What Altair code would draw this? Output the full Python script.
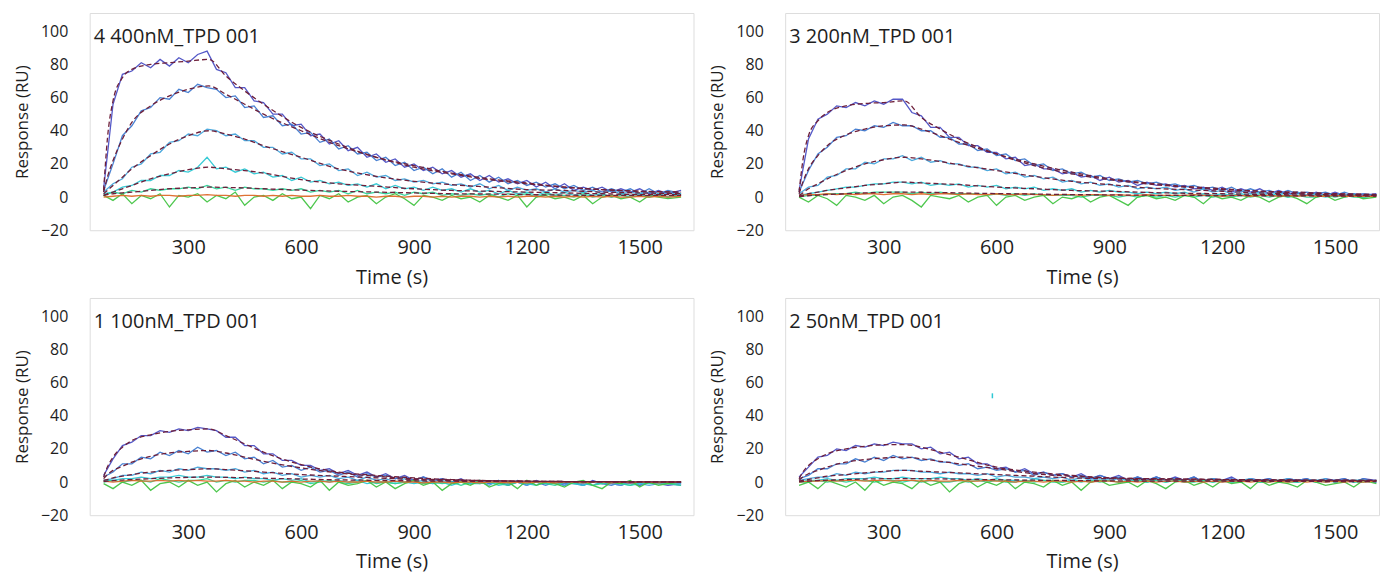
import altair as alt
import pandas as pd

TIME = [75, 100, 125, 150, 175, 200, 225, 250, 275, 300,
        325, 350, 375, 400, 425, 450, 475, 500, 525, 550,
        575, 600, 625, 650, 675, 700, 725, 750, 775, 800,
        825, 850, 875, 900, 925, 950, 975, 1000, 1025, 1050,
        1075, 1100, 1125, 1150, 1175, 1200, 1225, 1250, 1275, 1300,
        1325, 1350, 1375, 1400, 1425, 1450, 1475, 1500, 1525, 1550,
        1575, 1610]
FIT_TIME = [75, 85, 100, 125, 150, 200, 250, 300, 355, 400, 450, 500, 600,
            700, 800, 900, 1000, 1100, 1200, 1300, 1400, 1500, 1610]

PANEL_TITLES = ["4 400nM_TPD 001", "3 200nM_TPD 001", "1 100nM_TPD 001", "2 50nM_TPD 001"]
SERIES = ["s1", "s2", "s3", "s4", "s5", "s6", "s7"]
COLORS = ["#4b4fc4", "#3f7ad0", "#45a5dc", "#2ec8d4", "#2fd39a", "#43c443", "#dd6a2a"]
WIDTHS = [1.3, 1.3, 1.3, 1.3, 1.3, 1.2, 2.0]
FIT_COLOR = "#6e1f3a"
X_TICKS = [300, 600, 900, 1200, 1500]
Y_TICKS = [-20, 0, 20, 40, 60, 80, 100]

# ---- panel A: 4 400nM ----
A1 = [5, 56, 74, 76, 81, 78, 83, 79, 84, 81,
      86, 88, 77, 75, 66, 66, 58, 57, 50, 50,
      43, 44, 37, 38, 32, 34, 28, 30, 24, 26,
      21, 23, 18, 20, 16, 18, 14, 16, 12, 14,
      10, 13, 9, 11, 8, 10, 6, 9, 5, 8,
      4, 6, 4, 6, 3, 5, 3, 5, 2, 4,
      2, 4]
A2 = [4, 20, 37, 43, 52, 54, 60, 59, 65, 63,
      68, 66, 65, 60, 61, 54, 55, 48, 49, 43,
      44, 38, 39, 33, 35, 29, 31, 26, 27, 22,
      24, 19, 21, 16, 18, 14, 17, 12, 15, 10,
      13, 9, 12, 8, 10, 7, 9, 6, 8, 5,
      7, 4, 6, 3, 5, 3, 5, 2, 5, 2,
      4, 2]
A3 = [3, 8, 11, 18, 20, 26, 27, 33, 34, 38,
      37, 41, 40, 37, 38, 34, 34, 30, 30, 26,
      27, 23, 23, 19, 20, 16, 17, 13, 15, 12,
      13, 10, 11, 9, 10, 8, 9, 7, 8, 6,
      8, 5, 7, 4, 6, 4, 5, 3, 5, 3,
      4, 3, 4, 2, 4, 2, 3, 2, 3, 1,
      3, 1]
A4 = [2, 3, 6, 7, 10, 10, 13, 13, 16, 15,
      18, 24, 17, 18, 15, 17, 14, 15, 12, 13,
      10, 12, 9, 10, 8, 9, 7, 8, 6, 8,
      5, 7, 5, 6, 4, 6, 4, 5, 3, 5,
      3, 4, 2, 4, 2, 3, 1, 3, 1, 3,
      1, 3, 1, 2, 0, 2, 1, 2, 0, 2,
      0, 2]
A5 = [1, 3, 2, 4, 3, 5, 4, 5, 5, 6,
      5, 7, 5, 6, 4, 6, 5, 5, 4, 5,
      4, 5, 3, 4, 3, 4, 2, 4, 2, 3,
      2, 3, 1, 3, 2, 3, 1, 2, 1, 2,
      1, 2, 0, 2, 1, 2, 0, 2, 1, 1,
      0, 2, 0, 1, 0, 1, 0, 1, 0, 1,
      0, 1]
A6 = [1, -2, 2, -4, 1, -1, 2, -6, 1, 0,
      2, -3, 1, -1, 3, -5, 0, 1, -2, 2,
      -1, 0, -7, 1, -1, 2, -3, 0, 1, -4,
      0, 2, -1, -5, 1, 0, -2, 1, -1, 0,
      -3, 1, 0, -2, 1, -6, 0, 1, -1, 0,
      -2, 1, -4, 0, 1, -1, 0, -3, 1, 0,
      -1, 0]
A7 = [0, 0.5, 1, 0.5, 1, 0.5, 1, 1, 0.5, 1,
      1, 1.5, 1, 1, 0.5, 1, 1, 0.5, 1, 0.5,
      1, 0.5, 0.5, 1, 0.5, 0.5, 1, 0.5, 0.5, 0,
      0.5, 0.5, 0, 0.5, 0.5, 0, 0.5, 0, 0.5, 0.5,
      0, 0.5, 0, 0.5, 0, 0.5, 0.5, 0, 0.5, 0,
      0.5, 0, 0.5, 0, 0.5, 0, 0, 0.5, 0, 0.5,
      0, 0.5]
FA1 = [4, 35, 58, 72, 77, 80, 81, 82, 83, 73, 64, 56, 42, 32, 24, 19, 14.5, 11, 8.5, 6, 4.5, 3.5, 3]
FA2 = [3, 12, 22, 35, 45, 55, 61, 65, 67, 62, 56, 50, 40, 31, 24, 18, 14, 10.5, 8, 6, 4.5, 3.5, 3]
FA3 = [2, 4, 7, 12, 17, 25, 32, 37, 40, 38, 35, 31, 24, 17, 12.5, 9.5, 7.5, 6, 4.5, 4, 3, 2.5, 2]
FA4 = [1, 2, 3, 5, 7, 11, 14, 16.5, 18, 17, 16, 14.5, 10.5, 8, 6.5, 5, 4, 3.5, 3, 2.5, 2, 1.5, 1.5]
FA5 = [1, 1.5, 2, 2.5, 3, 4, 5, 5.5, 6, 5.8, 5.5, 5, 4.2, 3.5, 3, 2.5, 2, 1.8, 1.5, 1.2, 1, 1, 1]

# ---- panel B: 3 200nM ----
B1 = [4, 35, 47, 50, 55, 54, 57, 55, 58, 56,
      59, 59, 51, 49, 42, 42, 36, 36, 31, 31,
      27, 27, 23, 24, 19, 20, 17, 17, 14, 15,
      12, 13, 10, 12, 9, 10, 7, 9, 7, 8,
      6, 7, 5, 6, 4, 6, 3, 5, 3, 5,
      2, 4, 2, 3, 1, 3, 1, 3, 1, 2,
      1, 2]
B2 = [3, 16, 26, 30, 36, 37, 41, 40, 43, 42,
      45, 43, 43, 40, 40, 36, 36, 32, 32, 28,
      29, 25, 26, 22, 23, 19, 20, 16, 17, 14,
      15, 12, 13, 10, 11, 9, 10, 8, 9, 7,
      8, 6, 7, 5, 6, 4, 6, 3, 5, 3,
      4, 2, 4, 2, 3, 2, 3, 1, 3, 1,
      2, 1]
B3 = [2, 6, 7, 12, 13, 17, 17, 21, 20, 23,
      23, 25, 22, 24, 21, 22, 20, 20, 18, 18,
      16, 17, 14, 15, 12, 13, 11, 12, 9, 10,
      8, 9, 7, 8, 6, 7, 5, 6, 5, 6,
      4, 5, 3, 5, 3, 4, 2, 4, 2, 3,
      2, 3, 1, 3, 1, 2, 1, 2, 1, 2,
      0, 1]
B4 = [1, 2, 3, 4, 5, 6, 6, 7, 8, 8,
      9, 9, 8, 9, 7, 8, 7, 8, 6, 7,
      6, 7, 5, 6, 5, 6, 4, 5, 4, 5,
      3, 4, 3, 4, 3, 3, 2, 3, 2, 3,
      2, 3, 1, 2, 1, 2, 1, 2, 1, 2,
      1, 2, 0, 1, 1, 1, 0, 1, 0, 1,
      0, 1]
B5 = [0, 1, 1, 2, 2, 2, 3, 2, 3, 3,
      3, 3, 2, 3, 2, 3, 2, 2, 2, 2,
      1, 2, 1, 2, 1, 2, 1, 1, 1, 1,
      0, 1, 1, 1, 0, 1, 0, 1, 0, 1,
      0, 1, 0, 1, 0, 1, 0, 1, 0, 1,
      0, 1, 0, 1, 0, 0, 1, 0, 1, 0,
      0, 1]
B6 = [0, -3, 1, -1, -5, 1, 0, -2, 1, -4,
      0, 1, -2, -6, 1, 0, -1, 1, -3, 0,
      1, -5, 0, 1, -2, 0, 1, -4, 0, -1,
      1, -3, 0, 1, -2, -5, 0, 1, -1, 0,
      -2, 1, 0, -4, 1, -1, 0, -2, 1, 0,
      -3, 0, 1, -1, -4, 0, 1, -2, 0, 1,
      -1, 0]
B7 = [1, 1.5, 1.5, 2, 1.5, 2, 1.5, 2, 2, 1.5,
      2, 2, 1.5, 2, 1.5, 2, 2, 1.5, 2, 1.5,
      1.5, 2, 1.5, 1.5, 2, 1.5, 1.5, 1, 1.5, 1.5,
      1, 1.5, 1.5, 1, 1.5, 1, 1, 1.5, 1, 1,
      1, 1, 1.5, 1, 1, 0.5, 1, 1, 0.5, 1,
      1, 0.5, 1, 0.5, 1, 0.5, 0.5, 1, 0.5, 0.5,
      0.5, 0.5]
FB1 = [3, 22, 37, 46, 51, 55, 56.5, 57, 58, 48, 41, 35, 26, 19, 14, 10.5, 8, 6, 4.5, 3.5, 2.5, 2, 1.5]
FB2 = [2, 9, 17, 25, 31, 37.5, 41, 43, 43.5, 41, 37, 33, 26, 20, 15, 11, 8.5, 6.5, 5, 3.5, 3, 2, 1.5]
FB3 = [1, 2.5, 5, 8, 11, 16, 20, 22.5, 24, 23, 21.5, 19.5, 16, 12.5, 9.5, 7.5, 5.5, 4.5, 3.5, 2.5, 2, 1.5, 1]
FB4 = [0.5, 1, 2, 3, 4, 5.5, 7, 8, 9, 8.5, 8, 7.5, 6, 5, 4, 3.5, 2.8, 2.3, 2, 1.6, 1.3, 1.1, 1]
FB5 = [0.3, 0.5, 0.8, 1.2, 1.5, 2, 2.5, 2.8, 3, 2.9, 2.7, 2.5, 2.1, 1.8, 1.5, 1.3, 1.1, 1, 0.9, 0.8, 0.7, 0.6, 0.5]

# ---- panel C: 1 100nM ----
C1 = [4, 14, 22, 24, 28, 28, 31, 30, 32, 31,
      33, 32, 31, 27, 27, 22, 22, 17, 17, 13,
      13, 10, 10, 7, 8, 5, 7, 4, 6, 3,
      5, 2, 4, 1, 3, 1, 2, 0, 2, -1,
      1, -1, 1, -2, 0, -2, 1, -1, 0, -2,
      0, -2, 1, -1, -1, -2, 0, -2, 0, -1,
      -2, -1]
C2 = [3, 6, 11, 11, 15, 14, 18, 16, 19, 17,
      21, 18, 19, 16, 18, 14, 15, 11, 13, 9,
      10, 7, 9, 6, 7, 4, 6, 3, 5, 3,
      4, 2, 3, 1, 3, 0, 2, 0, 1, -1,
      1, -1, 0, -2, 1, -1, 0, -2, 0, -1,
      -1, -2, 0, -1, -2, 0, -1, -2, 0, -1,
      -1, -2]
C3 = [1, 2, 4, 4, 6, 5, 7, 6, 8, 7,
      9, 8, 8, 7, 8, 6, 7, 5, 6, 4,
      5, 3, 4, 3, 4, 2, 3, 1, 3, 1,
      2, 0, 2, 0, 1, -1, 1, -1, 0, -1,
      0, -2, 1, -1, 0, -2, 0, -1, -1, -2,
      0, -1, -2, 0, -1, -2, 0, -1, -2, -1,
      0, -1]
C4 = [1, 1, 2, 2, 3, 2, 3, 3, 4, 3,
      3, 4, 3, 3, 2, 3, 2, 2, 1, 2,
      1, 2, 0, 1, 0, 1, 0, 1, -1, 0,
      0, -1, 0, -1, 0, -1, 0, -2, 0, -1,
      -1, 0, -2, -1, 0, -1, -2, 0, -1, 0,
      -1, -2, 0, -1, 0, -1, -2, -1, 0, -1,
      -1, 0]
C5 = [0, 1, 0, 1, 1, 0, 2, 1, 0, 1,
      1, 2, 0, 1, 0, 1, 1, 0, 1, 0,
      0, 1, -1, 0, 1, 0, -1, 0, 1, -1,
      0, -1, 0, 1, -1, 0, -1, 0, -2, 0,
      -1, 0, -1, -2, 0, -1, 0, -1, -2, 0,
      -1, 0, -2, -1, 0, -1, -2, 0, -1, 0,
      -1, -2]
C6 = [-1, -4, 0, -2, 1, -5, -1, 0, -3, 1,
      -2, 0, -6, -1, 1, -3, 0, -2, 1, -4,
      0, -1, -3, 1, -5, 0, -2, -1, 1, -3,
      0, -4, -1, 1, -2, 0, -5, -1, 0, -2,
      1, -3, -1, 0, -4, 1, -2, 0, -1, -3,
      0, 1, -2, -4, 0, -1, 1, -3, 0, -2,
      -1, 0]
C7 = [0.5, 0, 0.5, 1, 0.5, 0.5, 1, 0.5, 1, 0.5,
      1, 0.5, 0.5, 1, 0.5, 0.5, 0, 0.5, 0.5, 0,
      0.5, 0, 0.5, 0.5, 0, 0.5, 0, 0, 0.5, 0,
      0, 0.5, 0, 0, -0.5, 0, 0, -0.5, 0, 0,
      -0.5, 0, 0, -0.5, 0, -0.5, 0, 0, -0.5, 0,
      0, -0.5, 0, 0, -0.5, 0, -0.5, 0, 0, -0.5,
      0, 0]
FC1 = [3, 9, 15, 21, 25, 28.5, 30.5, 31.5, 32, 28, 23, 18, 10.5, 6, 4, 2.5, 1.5, 0.8, 0.5, 0.3, 0.2, 0.1, 0]
FC2 = [2, 4.5, 7, 9.5, 12, 15.5, 17.5, 18.5, 19, 17.5, 15, 12.5, 8.5, 5.5, 3.5, 2, 1.3, 0.8, 0.5, 0.3, 0.2, 0.1, 0]
FC3 = [1, 1.5, 2.5, 3.5, 4.5, 6, 7, 7.5, 8, 7.5, 6.8, 6, 4.5, 3.5, 2.5, 1.5, 1, 0.7, 0.5, 0.3, 0.2, 0.1, 0]
FC4 = [0.3, 0.5, 0.8, 1.2, 1.5, 2, 2.5, 2.8, 3, 2.8, 2.6, 2.3, 1.8, 1.3, 1, 0.7, 0.5, 0.4, 0.3, 0.2, 0.1, 0.1, 0]

# ---- panel D: 2 50nM ----
D1 = [3, 9, 15, 16, 20, 19, 22, 21, 23, 22,
      24, 23, 23, 20, 21, 17, 18, 14, 15, 11,
      11, 8, 9, 6, 8, 5, 6, 4, 5, 3,
      5, 2, 4, 2, 4, 1, 3, 1, 3, 1,
      3, 1, 3, 0, 2, 1, 3, 0, 2, 1,
      2, 0, 2, 1, 2, 0, 2, 1, 2, 0,
      2, 1]
D2 = [2, 4, 8, 8, 11, 11, 14, 12, 15, 13,
      16, 14, 15, 13, 14, 12, 12, 10, 11, 8,
      9, 7, 8, 6, 7, 4, 6, 4, 5, 3,
      4, 2, 4, 2, 3, 1, 3, 1, 3, 1,
      2, 1, 3, 0, 2, 1, 2, 0, 2, 1,
      2, 0, 2, 1, 2, 0, 1, 1, 2, 0,
      2, 0]
D3 = [1, 2, 3, 3, 5, 4, 6, 5, 6, 6,
      7, 7, 7, 6, 6, 5, 6, 5, 5, 4,
      5, 3, 4, 3, 3, 2, 3, 2, 3, 1,
      3, 1, 2, 1, 2, 1, 2, 0, 2, 1,
      2, 0, 1, 1, 2, 0, 1, 1, 2, 0,
      1, 1, 2, 0, 1, 1, 2, 0, 1, 1,
      1, 0]
D4 = [0, 1, 1, 2, 1, 2, 2, 2, 3, 2,
      2, 3, 2, 2, 2, 3, 2, 2, 1, 2,
      1, 2, 1, 1, 0, 2, 1, 1, 0, 1,
      1, 0, 1, 1, 0, 1, 1, 0, 1, 0,
      1, 0, 1, 1, 0, 1, 0, 1, 1, 0,
      1, 0, 1, 0, 1, 1, 0, 1, 0, 1,
      1, 0]
D5 = [0, 0, 1, 0, 1, 0, 1, 1, 0, 1,
      1, 0, 1, 0, 1, 0, 0, 1, 0, 1,
      0, 1, 0, 0, 1, 0, 1, 0, 0, 1,
      0, 1, 0, 1, 0, 0, 1, 0, 1, 0,
      1, 0, 0, 1, 0, 1, 0, 0, 1, 0,
      0, 1, 0, 0, 1, 0, 1, 0, 1, 0,
      0, 1]
D6 = [-2, 0, -4, 1, -1, -3, 0, -5, 1, -2,
      0, -1, -4, 1, -2, 0, -6, -1, 1, -3,
      0, -2, 1, -4, 0, -1, -3, 1, -2, 0,
      -5, 0, 1, -2, -1, 0, -3, 1, -1, -4,
      0, 1, -2, 0, -3, 1, -1, 0, -4, 1,
      -2, 0, -1, -3, 1, 0, -2, -1, 0, -3,
      1, -1]
D7 = [0, 0.5, 0.5, 1, 0.5, 1, 1, 0.5, 1, 1,
      0.5, 1, 1, 0.5, 1, 0.5, 0.5, 1, 0.5, 0.5,
      1, 0.5, 0.5, 0, 0.5, 0.5, 0, 0.5, 0.5, 0,
      0.5, 0, 0.5, 0.5, 0, 0.5, 0, 0.5, 0, 0.5,
      0.5, 0, 0.5, 0, 0.5, 0, 0.5, 0.5, 0, 0.5,
      0, 0.5, 0, 0.5, 0, 0.5, 0, 0.5, 0, 0.5,
      0, 0.5]
FD1 = [2, 6, 10, 14, 17, 20, 21.5, 22.5, 22.5, 21, 18, 15, 9, 6, 4, 2.5, 2, 1.8, 1.5, 1.3, 1.2, 1.1, 1]
FD2 = [1, 3, 5, 7, 9, 12, 13.5, 14.5, 15, 14, 12.5, 11, 8, 5, 3.5, 2.5, 2, 1.8, 1.5, 1.3, 1.2, 1.1, 1]
FD3 = [0.5, 1, 1.5, 2.5, 3.5, 4.5, 5.5, 6.5, 7, 6.5, 6, 5.5, 4.5, 3.5, 2.5, 2, 1.5, 1.3, 1.1, 1, 0.9, 0.8, 0.7]
FD4 = [0.2, 0.4, 0.6, 0.9, 1.1, 1.5, 1.8, 2, 2.1, 2, 1.9, 1.7, 1.4, 1.1, 0.9, 0.7, 0.6, 0.5, 0.5, 0.4, 0.4, 0.3, 0.3]

# stray cyan spike seen in the 50nM panel
STRAY_T = [589]
STRAY_LO = [50.5]
STRAY_HI = [53.5]

DATA = {
    "A": [A1, A2, A3, A4, A5, A6, A7],
    "B": [B1, B2, B3, B4, B5, B6, B7],
    "C": [C1, C2, C3, C4, C5, C6, C7],
    "D": [D1, D2, D3, D4, D5, D6, D7],
}
FITS = {
    "A": [FA1, FA2, FA3, FA4, FA5],
    "B": [FB1, FB2, FB3, FB4, FB5],
    "C": [FC1, FC2, FC3, FC4],
    "D": [FD1, FD2, FD3, FD4],
}

FONT = "Open Sans"
TEXT_COLOR = "#1e1e1e"


def panel(key, title, width, xmax, stray=False):
    rows = []
    for name, vals in zip(SERIES, DATA[key]):
        assert len(vals) == len(TIME), (key, name, len(vals))
        rows += [{"t": t, "v": v, "s": name} for t, v in zip(TIME, vals)]
    df = pd.DataFrame(rows)
    frows = []
    for i, vals in enumerate(FITS[key]):
        assert len(vals) == len(FIT_TIME), (key, i, len(vals))
        frows += [{"t": t, "v": v, "f": f"f{i}"} for t, v in zip(FIT_TIME, vals)]
    fdf = pd.DataFrame(frows)

    x = alt.X("t:Q",
              scale=alt.Scale(domain=[38, xmax], nice=False, zero=False),
              axis=alt.Axis(values=X_TICKS, format="d", title="Time (s)", grid=False,
                            ticks=False, domain=False, labelFontSize=20, labelPadding=7,
                            titleFontSize=20, titleFontWeight="normal", titlePadding=10,
                            labelFont=FONT, titleFont=FONT, labelColor=TEXT_COLOR,
                            titleColor=TEXT_COLOR, labelFlush=False))
    y = alt.Y("v:Q",
              scale=alt.Scale(domain=[-20, 111], nice=False, zero=False),
              axis=alt.Axis(values=Y_TICKS, format="d", title="Response (RU)", grid=False,
                            ticks=False, domain=False, labelFontSize=16, labelPadding=22,
                            titleFontSize=17, titleFontWeight="normal", titlePadding=9,
                            labelFont=FONT, titleFont=FONT, labelColor=TEXT_COLOR,
                            titleColor=TEXT_COLOR, labelFlush=False))

    lines = alt.Chart(df).mark_line(clip=True, opacity=0.95).encode(
        x=x, y=y,
        color=alt.Color("s:N", scale=alt.Scale(domain=SERIES, range=COLORS), legend=None),
        strokeWidth=alt.StrokeWidth("s:N", scale=alt.Scale(domain=SERIES, range=WIDTHS),
                                    legend=None),
    )
    fits = alt.Chart(fdf).mark_line(clip=True, strokeWidth=1.3, strokeDash=[5, 3],
                                    color=FIT_COLOR, interpolate="monotone").encode(
        x=x, y=y, detail="f:N")
    label = alt.Chart(pd.DataFrame({"label": [title]})).mark_text(
        align="left", baseline="middle", fontSize=20, font=FONT, color=TEXT_COLOR
    ).encode(x=alt.value(4), y=alt.value(24), text="label:N")

    layers = [lines, fits, label]
    if stray:
        sdf = pd.DataFrame({"t": STRAY_T, "v": STRAY_LO, "hi": STRAY_HI})
        layers.append(alt.Chart(sdf).mark_rule(color="#2ec8d4", strokeWidth=1.5).encode(
            x=x, y=y, y2="hi:Q"))
    return alt.layer(*layers).properties(width=width, height=218)


pA = panel("A", PANEL_TITLES[0], 606, 1643)
pB = panel("B", PANEL_TITLES[1], 596, 1617)
pC = panel("C", PANEL_TITLES[2], 606, 1643)
pD = panel("D", PANEL_TITLES[3], 596, 1617, stray=True)

top = alt.hconcat(pA, pB, spacing=14)
bottom = alt.hconcat(pC, pD, spacing=14)
chart = alt.vconcat(top, bottom, spacing=9).properties(
    padding={"left": 5, "top": 3, "right": 0, "bottom": 0}
).configure_view(stroke="#e1e1e1", strokeWidth=1).configure(background="white")

chart.save("out.html", embed_options={"renderer": "svg", "actions": False})
